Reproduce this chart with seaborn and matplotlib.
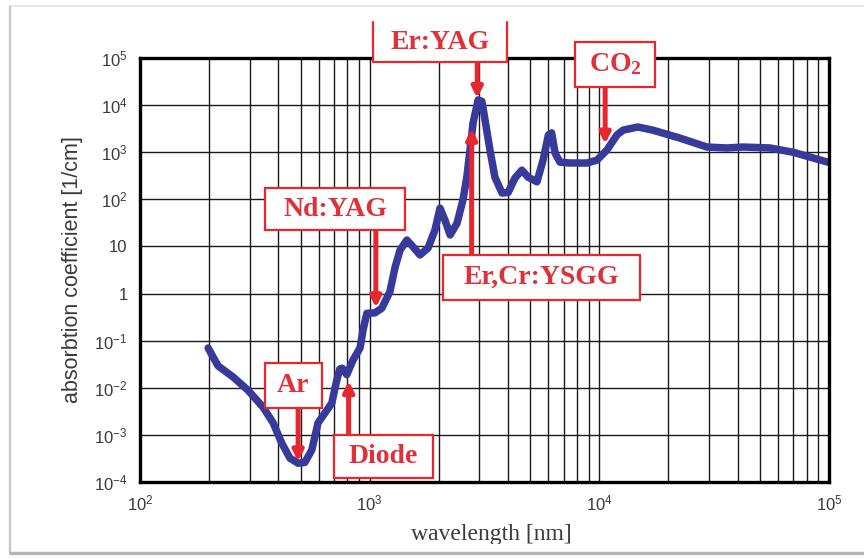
import pandas as pd
import seaborn as sns
import matplotlib.pyplot as plt
from matplotlib.patches import Rectangle
from matplotlib.lines import Line2D
from matplotlib.ticker import LogLocator, FixedLocator, FixedFormatter, NullFormatter

# -------- Data --------
wavelength_nm = [198, 208, 219, 254, 295, 343, 380, 414, 450, 488, 522, 560, 596, 638,
                 684, 719, 741, 760, 795, 847, 908, 936, 972, 1055, 1130, 1225, 1290,
                 1355, 1452, 1548, 1656, 1794, 1923, 2024, 2128, 2240, 2400, 2548, 2650,
                 2735, 2820, 2966, 3080, 3180, 3340, 3510, 3770, 4010, 4290, 4600, 4900,
                 5350, 5690, 6000, 6200, 6420, 6740, 7450, 8830, 9770, 10800, 11930,
                 12680, 14720, 17100, 22400, 29400, 35900, 42200, 55300, 69700, 98900]
absorption = [0.070, 0.045, 0.029, 0.017, 0.0089, 0.0039, 0.0018, 6.7e-4, 3.2e-4, 2.5e-4,
              2.6e-4, 4.8e-4, 1.8e-3, 2.9e-3, 4.7e-3, 0.0145, 0.025, 0.026, 0.019, 0.039,
              0.07, 0.17, 0.38, 0.39, 0.49, 1.1, 3.6, 8.3, 13.7, 9.7, 6.6, 9.2, 22, 65, 36,
              17.5, 31, 97, 300, 1120, 4170, 12900, 12000, 4800, 1120, 295, 136, 140, 282,
              416, 295, 235, 680, 2320, 2570, 955, 615, 590, 590, 680, 1120, 2320, 2940,
              3430, 2940, 2000, 1290, 1230, 1290, 1230, 1000, 615]

laser_names = ["Ar", "Diode", "Nd:YAG", "Er,Cr:YSGG", "Er:YAG", r"$\mathbf{CO_2}$"]
laser_nm = [488, 810, 1064, 2780, 2940, 10600]

x_ticks = [1e2, 1e3, 1e4, 1e5]
x_tick_labels = ["$10^2$", "$10^3$", "$10^4$", "$10^5$"]
y_ticks = [1e-4, 1e-3, 1e-2, 1e-1, 1, 10, 1e2, 1e3, 1e4, 1e5]
y_tick_labels = ["$10^{-4}$", "$10^{-3}$", "$10^{-2}$", "$10^{-1}$", "1", "10",
                 "$10^2$", "$10^3$", "$10^4$", "$10^5$"]

# -------- Annotation layout (box extents and arrow ends, data units) --------
box_x = [(350, 619), (700, 1888), (350, 1426), (2085, 15040), (1034, 3963), (7834, 17470)]
box_y = [(3.7e-3, 0.0334), (1.21e-4, 9.9e-4), (22.3, 174), (0.728, 6.56),
         (8.2e4, 5.8e5), (2.42e4, 2.19e5)]
arrow_from = [3.7e-3, 9.9e-4, 22.3, 6.56, 8.2e4, 2.42e4]
arrow_to = [2.7e-4, 0.014, 0.5, 3200, 1.4e4, 1500]
open_top = [False, False, False, False, True, False]

RED = "#e8262e"
TEXT_RED = "#e0313a"
BLUE = "#373a9b"

# -------- Style --------
sns.set_theme(style="white")
plt.rcParams["font.family"] = ["Liberation Sans", "DejaVu Sans"]
plt.rcParams["mathtext.fontset"] = "custom"
plt.rcParams["mathtext.rm"] = "Liberation Sans"
plt.rcParams["mathtext.it"] = "Liberation Sans:italic"
plt.rcParams["mathtext.bf"] = "Liberation Serif:bold"

fig = plt.figure(figsize=(8.64, 5.58), dpi=100)
ax = fig.add_axes([140 / 864, 1 - 482 / 558, 689 / 864, 424 / 558])

df = pd.DataFrame({"wavelength": wavelength_nm, "alpha": absorption})
sns.lineplot(data=df, x="wavelength", y="alpha", ax=ax, color=BLUE, lw=5.4,
             estimator=None, sort=False, solid_joinstyle="round",
             solid_capstyle="round", zorder=4)

ax.set_xscale("log")
ax.set_yscale("log")
ax.set_xlim(1e2, 1e5)
ax.set_ylim(1e-4, 1e5)

ax.xaxis.set_major_locator(FixedLocator(x_ticks))
ax.xaxis.set_major_formatter(FixedFormatter(x_tick_labels))
ax.xaxis.set_minor_locator(LogLocator(base=10, subs=range(2, 10)))
ax.xaxis.set_minor_formatter(NullFormatter())
ax.yaxis.set_major_locator(FixedLocator(y_ticks))
ax.yaxis.set_major_formatter(FixedFormatter(y_tick_labels))
ax.yaxis.set_minor_locator(FixedLocator([]))

ax.grid(which="both", axis="x", color="#1a1a1a", lw=1.0)
ax.grid(which="major", axis="y", color="#1a1a1a", lw=1.0)
ax.tick_params(axis="y", which="major", direction="in", length=7, width=2.5,
               color="black", labelsize=12, labelcolor="#3a3a3a", pad=9)
ax.tick_params(axis="x", which="major", direction="in", length=5, width=2.5,
               color="black", labelsize=12, labelcolor="#3a3a3a", pad=8)
ax.tick_params(axis="x", which="minor", length=0)
for side in ax.spines.values():
    side.set_color("black")
    side.set_linewidth(2.4)
    side.set_zorder(6)

ax.set_xlabel("")
ax.set_ylabel("absorbtion coefficient [1/cm]", fontsize=15.5, color="#3a3a3a", va="center")
ax.yaxis.set_label_coords(-0.098, 0.5)

# -------- Laser annotations --------
for name, nm, bx, by, a0, a1, ot in zip(laser_names, laser_nm, box_x, box_y,
                                        arrow_from, arrow_to, open_top):
    ax.annotate("", xy=(nm, a1), xytext=(nm, a0),
                arrowprops=dict(arrowstyle="-|>,head_width=0.25,head_length=0.5",
                                color=RED, lw=3.6, shrinkA=0, shrinkB=0),
                zorder=7, annotation_clip=False)
    ax.add_patch(Rectangle((bx[0], by[0]), bx[1] - bx[0], by[1] - by[0],
                           facecolor="white", edgecolor="none", zorder=8, clip_on=False))
    if ot:
        ax.plot([bx[0], bx[0], bx[1], bx[1]], [by[1], by[0], by[0], by[1]],
                color=RED, lw=1.6, zorder=9, clip_on=False)
    else:
        ax.add_patch(Rectangle((bx[0], by[0]), bx[1] - bx[0], by[1] - by[0],
                               facecolor="none", edgecolor=RED, lw=1.6, zorder=9,
                               clip_on=False))
    cx = (bx[0] * bx[1]) ** 0.5
    cy = (by[0] * by[1]) ** 0.5
    ax.text(cx, cy, name, ha="center", va="center", fontsize=20, color=TEXT_RED,
            fontweight="bold", family=["Liberation Serif", "DejaVu Serif"],
            zorder=10, clip_on=False)

# -------- x label, partly cut by the screenshot edge --------
fig.text(491 / 864, 1 - 540 / 558, "wavelength [nm]", ha="center", va="baseline",
         fontsize=17, color="#3a3a3a", family=["Liberation Serif", "DejaVu Serif"])
fig.add_artist(Rectangle((0, 0), 1, 1 - 544 / 558, transform=fig.transFigure,
                         facecolor="white", edgecolor="none", zorder=20))

# -------- screenshot frame --------
fig.add_artist(Line2D([10 / 864, 10 / 864], [1 - 553 / 558, 1 - 6 / 558],
                      transform=fig.transFigure, color="#c4c4c4", lw=1.6, zorder=21))
fig.add_artist(Line2D([10 / 864, 1], [1 - 6 / 558, 1 - 6 / 558],
                      transform=fig.transFigure, color="#e2e2e2", lw=1.2, zorder=21))
fig.add_artist(Line2D([10 / 864, 1], [1 - 553 / 558, 1 - 553 / 558],
                      transform=fig.transFigure, color="#b5b5b5", lw=2.4, zorder=21))

fig.savefig("out.png", dpi=100)
plt.close(fig)
